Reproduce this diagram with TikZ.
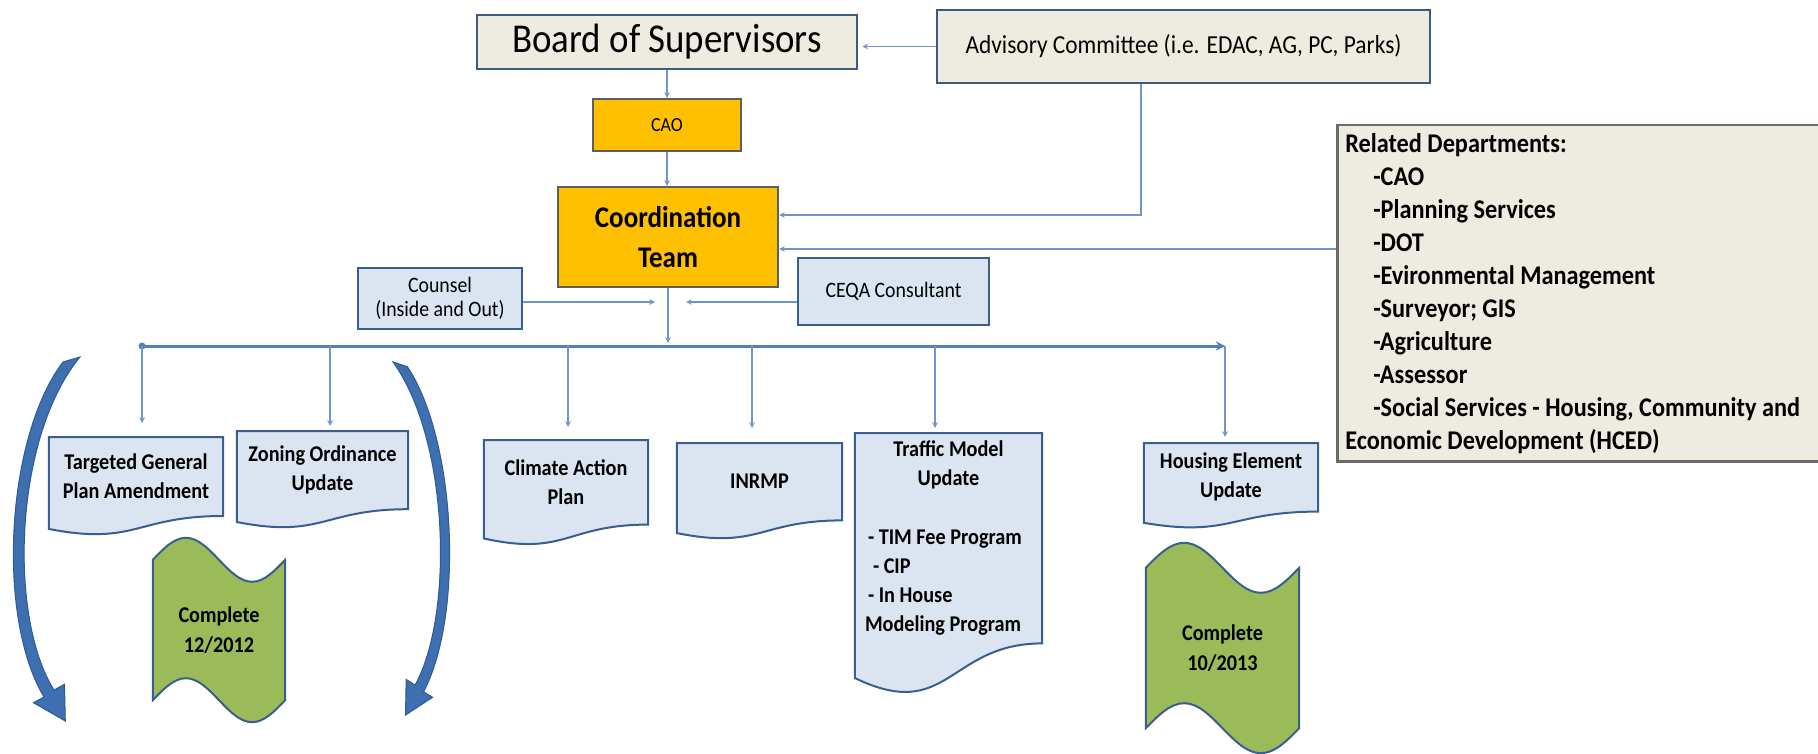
\documentclass[tikz,border=0pt]{standalone}
\usepackage{fontspec}
\setmainfont{Carlito}[FakeStretch=0.9]
\usepackage{tikz}
\usetikzlibrary{arrows, positioning, backgrounds, calc}

\definecolor{tanfill}{HTML}{EEECE1}
\definecolor{slateline}{HTML}{3B5A85}
\definecolor{paleblue}{HTML}{DBE5F1}
\definecolor{docedge}{HTML}{3A5F8F}
\definecolor{gold}{HTML}{FFC000}
\definecolor{goldedge}{HTML}{5F5F5F}
\definecolor{leaf}{HTML}{9BBB59}
\definecolor{linkblue}{HTML}{7196CC}
\definecolor{busblue}{HTML}{4F81BD}
\definecolor{swoop}{HTML}{3E6FB0}
\definecolor{swoopedge}{HTML}{2F5B93}
\definecolor{greyedge}{HTML}{6B6B6B}

\newcommand{\fs}[2]{\fontsize{#1}{#2}\selectfont}

% box with a wavy bottom: node, full height of the wave
\newcommand{\docoutline}[2]{%
  \filldraw[docshape] (#1.north west) -- (#1.north east) -- (#1.south east)
    .. controls (#1.south) and ($(#1.south)+(0,0.3055*#2)$) .. ($(#1.south west)+(0,0.132*#2)$) -- cycle;}

% flag with wavy top and bottom: node, amplitude
\newcommand{\tapeoutline}[2]{%
  \filldraw[tapeshape] (#1.north west)
      sin ($(#1.north west)!0.25!(#1.north east)+(0,-#2)$) cos (#1.north)
      sin ($(#1.north west)!0.75!(#1.north east)+(0,#2)$) cos (#1.north east)
    -- (#1.south east)
      sin ($(#1.south east)!0.25!(#1.south west)+(0,#2)$) cos (#1.south)
      sin ($(#1.south east)!0.75!(#1.south west)+(0,-#2)$) cos (#1.south west)
    -- cycle;}

\begin{document}
\begin{tikzpicture}[x=1pt, y=-1pt,
    headbox/.style={draw=slateline, line width=2.5pt, fill=tanfill, inner sep=0pt},
    goldbox/.style={draw=goldedge, line width=2pt, fill=gold, inner sep=0pt, align=center, font=\bfseries\fs{30}{40}},
    sidebox/.style={draw=docedge, line width=2pt, fill=paleblue, inner sep=0pt, align=center, font=\fs{22}{24}},
    relbox/.style={draw=greyedge, line width=2.5pt, fill=tanfill, inner xsep=8pt, inner ysep=0pt, align=flush left, font=\bfseries\fs{27}{33}},
    docbox/.style={inner sep=0pt, anchor=north, align=center, font=\bfseries\fs{22.5}{29}},
    tapebox/.style={inner sep=0pt, align=center, font=\bfseries\fs{22.5}{30}},
    docshape/.style={draw=docedge, line width=2pt, fill=paleblue},
    tapeshape/.style={draw=docedge, line width=2pt, fill=leaf},
    link/.style={draw=linkblue, line width=1.6pt, ->, >=stealth},
    busline/.style={draw=busblue, line width=3pt},
    swoosh/.pic={
      \filldraw[fill=swoop, draw=swoopedge, line width=1pt]
        (0,0) -- (-17,5) .. controls (-74,80) and (-84,260) .. (-36,340)
        -- (-46.5,345.7) -- (-14.7,364) -- (-15.5,327.3) -- (-26,333)
        .. controls (-72,260) and (-66,80) .. (0,0) -- cycle;
    }]
  \useasboundingbox (0,0) rectangle (1818,754);

  % top of the chart
  \node[headbox, minimum width=380pt, minimum height=54pt, font=\fs{41}{41}] (board) at (667,42) {Board of Supervisors};
  \node[headbox, minimum width=493pt, minimum height=73pt, font=\fs{26}{26}] (advisory) at (1183.5,46.5) {Advisory Committee (i.e. EDAC, AG, PC, Parks)};
  \node[goldbox, minimum width=148pt, minimum height=52pt, font=\fs{20}{20}] (cao) at (667,125) {CAO};
  \node[goldbox, minimum width=220pt, minimum height=100pt] (coord) at (668,237) {Coordination\\Team};
  \node[sidebox, minimum width=164pt, minimum height=61pt] (counsel) at (440,298.5) {Counsel\\(Inside and Out)};
  \node[sidebox, minimum width=191pt, minimum height=67pt] (ceqa) at (893.5,291.5) {CEQA Consultant};
  \node[relbox, minimum height=336pt, text width=470pt, anchor=north west] (related) at (1336,124) {%
    Related Departments:\\
    \hspace*{28pt}-CAO\\
    \hspace*{28pt}-Planning Services\\
    \hspace*{28pt}-DOT\\
    \hspace*{28pt}-Evironmental Management\\
    \hspace*{28pt}-Surveyor; GIS\\
    \hspace*{28pt}-Agriculture\\
    \hspace*{28pt}-Assessor\\
    \hspace*{28pt}-Social Services - Housing, Community and\\
    Economic Development (HCED)};

  % projects
  \node[docbox, minimum width=174pt, minimum height=78.6pt] (tgpa) at (136,437) {Targeted General\\Plan Amendment};
  \node[docbox, minimum width=171pt, minimum height=77.8pt] (zoning) at (322.5,431) {Zoning Ordinance\\Update};
  \node[docbox, minimum width=164pt, minimum height=84.2pt] (cap) at (566,440) {Climate Action\\Plan};
  \node[docbox, minimum width=165pt, minimum height=77pt] (inrmp) at (759.5,443) {INRMP};
  \node[docbox, minimum width=187pt, minimum height=210pt, text width=175pt, align=flush left] (traffic) at (948.5,433) {%
    {\centering Traffic Model\\Update\\[30pt]\par}
    \hspace*{7pt}- TIM Fee Program\\
    \hspace*{12pt}- CIP\\
    \hspace*{7pt}- In House\\
    \hspace*{4pt}Modeling Program};
  \node[docbox, minimum width=174pt, minimum height=68.2pt] (housing) at (1231,443) {Housing Element\\Update};
  \node[tapebox, minimum width=132pt, minimum height=140pt] (done12) at (219,630) {Complete\\12/2012};
  \node[tapebox, minimum width=153pt, minimum height=160pt] (done13) at (1222.5,648) {Complete\\10/2013};

  \begin{scope}[on background layer]
    \fill[white] (0,0) rectangle (1818,754);
    \foreach \n/\h in {tgpa/98, zoning/97, cap/105, inrmp/96, traffic/262, housing/85}
      \docoutline{\n}{\h};
    \tapeoutline{done12}{22}
    \tapeoutline{done13}{25}
  \end{scope}

  % reporting lines
  \draw[link, shorten >=4pt] (advisory.west) -- (advisory.west -| board.east);
  \draw[link] (board.south) -- (cao.north);
  \draw[link] (cao.south) -- (cao.south |- coord.north);
  \draw[link] ($(advisory.south)+(-42.5,0)$) |- ($(coord.east)+(0,-22)$);
  \coordinate (relin) at ($(coord.east)+(0,12)$);
  \draw[link] (related.west |- relin) -- (relin);
  \coordinate (cin) at (655,302);
  \coordinate (qin) at (686,302);
  \draw[link] (counsel.east |- cin) -- (cin);
  \draw[link] (ceqa.west |- qin) -- (qin);

  % distribution bus
  \coordinate (busL) at (142,346);
  \coordinate (busR) at (1225,346);
  \draw[link, shorten >=3pt] (coord.south) -- (coord.south |- busL);
  \draw[busline, -stealth] (busL) -- (busR);
  \fill[busblue] (busL) circle (3.5pt);
  \foreach \n/\dx/\gap in {tgpa/6/14, zoning/7.5/5, cap/2/13, inrmp/-7.5/15, traffic/-13.5/5, housing/-6/6}
    \draw[link] ($(\n.north |- busL)+(\dx,0)$) -- ($(\n.north)+(\dx,-\gap)$);

  % update cycle arrows
  \pic at (80,357) {swoosh};
  \pic[xscale=-0.85, yscale=0.97] at (393,362) {swoosh};
\end{tikzpicture}
\end{document}
